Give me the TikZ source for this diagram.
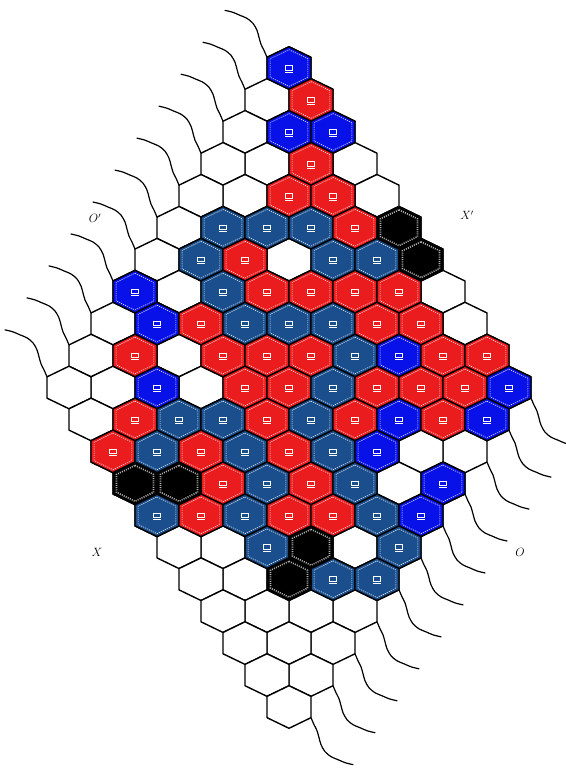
\documentclass[tikz,border=0pt]{standalone}
\usepackage{amsmath}
\usetikzlibrary{calc}

\definecolor{hexred}{RGB}{235,28,30}
\definecolor{hexnavy}{RGB}{26,78,140}
\definecolor{hexblue}{RGB}{8,18,232}

% one cell of the board, centred at the origin
\newcommand{\hexpath}{(0,-21.3) -- (22,-10.65) -- (22,10.65) -- (0,21.3) -- (-22,10.65) -- (-22,-10.65) -- cycle}

\begin{document}
\begin{tikzpicture}[
    x=1pt, y=-1pt,
    cell/.style={draw=black, line width=1.4pt, line join=round, fill=white},
    inner/.style={draw=white, dashed, dash pattern=on 1.2pt off 1pt, line width=0.5pt},
    icon/.style={draw=white, line width=0.6pt},
    rope/.style={draw=black, line width=1.2pt, line cap=round},
    sidelabel/.style={font=\fontsize{12}{14}\selectfont, inner sep=0pt}
]
\useasboundingbox (0,0) rectangle (565,770);

% cell centres
\foreach \i in {0,...,10}{
  \foreach \j in {0,...,10}{
    \coordinate (c-\i-\j) at ({289+(\j-\i)*22},{68+(\i+\j)*31.95});
  }
}

% ropes on the upper-left and lower-right sides
\foreach \i in {0,...,10}{
  \draw[rope, shift={(c-\i-0)}, shift={(-22,-10.65)}] plot[smooth]
    coordinates {(0,0) (-3,-7) (-6,-13) (-8,-20) (-10,-27) (-14,-34) (-20,-39) (-27,-42) (-34,-45) (-42,-47)};
  \draw[rope, shift={(c-\i-10)}, shift={(22,10.65)}] plot[smooth]
    coordinates {(0,0) (3,7) (6,13) (8,20) (10,27) (14,34) (20,39) (27,42) (34,45) (42,47)};
}

% empty board
\foreach \i in {0,...,10}{
  \foreach \j in {0,...,10}{
    \draw[cell, shift={(c-\i-\j)}] \hexpath;
  }
}

% coloured stones
\foreach \i/\j/\col in {
  0/0/hexblue, 0/1/hexred, 1/1/hexblue, 0/2/hexblue, 1/2/hexred,
  2/2/hexred, 1/3/hexred,
  4/1/hexnavy, 3/2/hexnavy, 2/3/hexnavy, 1/4/hexred,
  5/1/hexnavy, 4/2/hexred, 2/4/hexnavy, 1/5/hexnavy,
  7/0/hexblue, 5/2/hexnavy, 4/3/hexred, 3/4/hexred, 2/5/hexred, 1/6/hexred,
  7/1/hexblue, 6/2/hexred, 5/3/hexnavy, 4/4/hexnavy, 3/5/hexnavy, 2/6/hexred, 1/7/hexred,
  8/1/hexred, 6/3/hexred, 5/4/hexred, 4/5/hexred, 3/6/hexnavy, 2/7/hexblue, 1/8/hexred, 0/9/hexred,
  8/2/hexblue, 6/4/hexred, 5/5/hexred, 4/6/hexnavy, 3/7/hexred, 2/8/hexred, 1/9/hexred, 0/10/hexblue,
  9/2/hexred, 8/3/hexnavy, 7/4/hexnavy, 6/5/hexred, 5/6/hexnavy, 4/7/hexred, 3/8/hexblue, 2/9/hexred, 1/10/hexblue,
  10/2/hexred, 9/3/hexnavy, 8/4/hexred, 7/5/hexnavy, 6/6/hexred, 5/7/hexnavy, 4/8/hexblue,
  8/5/hexred, 7/6/hexnavy, 6/7/hexred, 5/8/hexnavy, 3/10/hexblue,
  10/4/hexnavy, 9/5/hexred, 8/6/hexnavy, 7/7/hexred, 6/8/hexred, 5/9/hexnavy, 4/10/hexblue,
  8/7/hexnavy, 5/10/hexnavy,
  7/9/hexnavy, 6/10/hexnavy}{
  \draw[cell, fill=\col, shift={(c-\i-\j)}] \hexpath;
  \draw[inner, shift={(c-\i-\j)}, scale=0.86] \hexpath;
  \draw[icon, shift={(c-\i-\j)}] (-3.5,-2.5) rectangle (3.5,2) (-4,4) -- (4,4);
}

% black stones
\foreach \i/\j in {0/5, 0/6, 10/3, 9/4, 7/8, 8/8}{
  \draw[cell, fill=black, shift={(c-\i-\j)}] \hexpath;
  \draw[gray!60, line width=1.6pt, dash pattern=on 1pt off 1.2pt, shift={(c-\i-\j)}, scale=0.84] \hexpath;
  \fill[black, shift={(c-\i-\j)}, scale=0.7] \hexpath;
}

% side labels
\node[sidelabel] (lab-otop) at (95,218) {$O'$};
\node[sidelabel] (lab-xtop) at (467,215) {$X'$};
\node[sidelabel] (lab-x) at (97,552) {$X$};
\node[sidelabel] (lab-o) at (520,552) {$O$};

\end{tikzpicture}
\end{document}
